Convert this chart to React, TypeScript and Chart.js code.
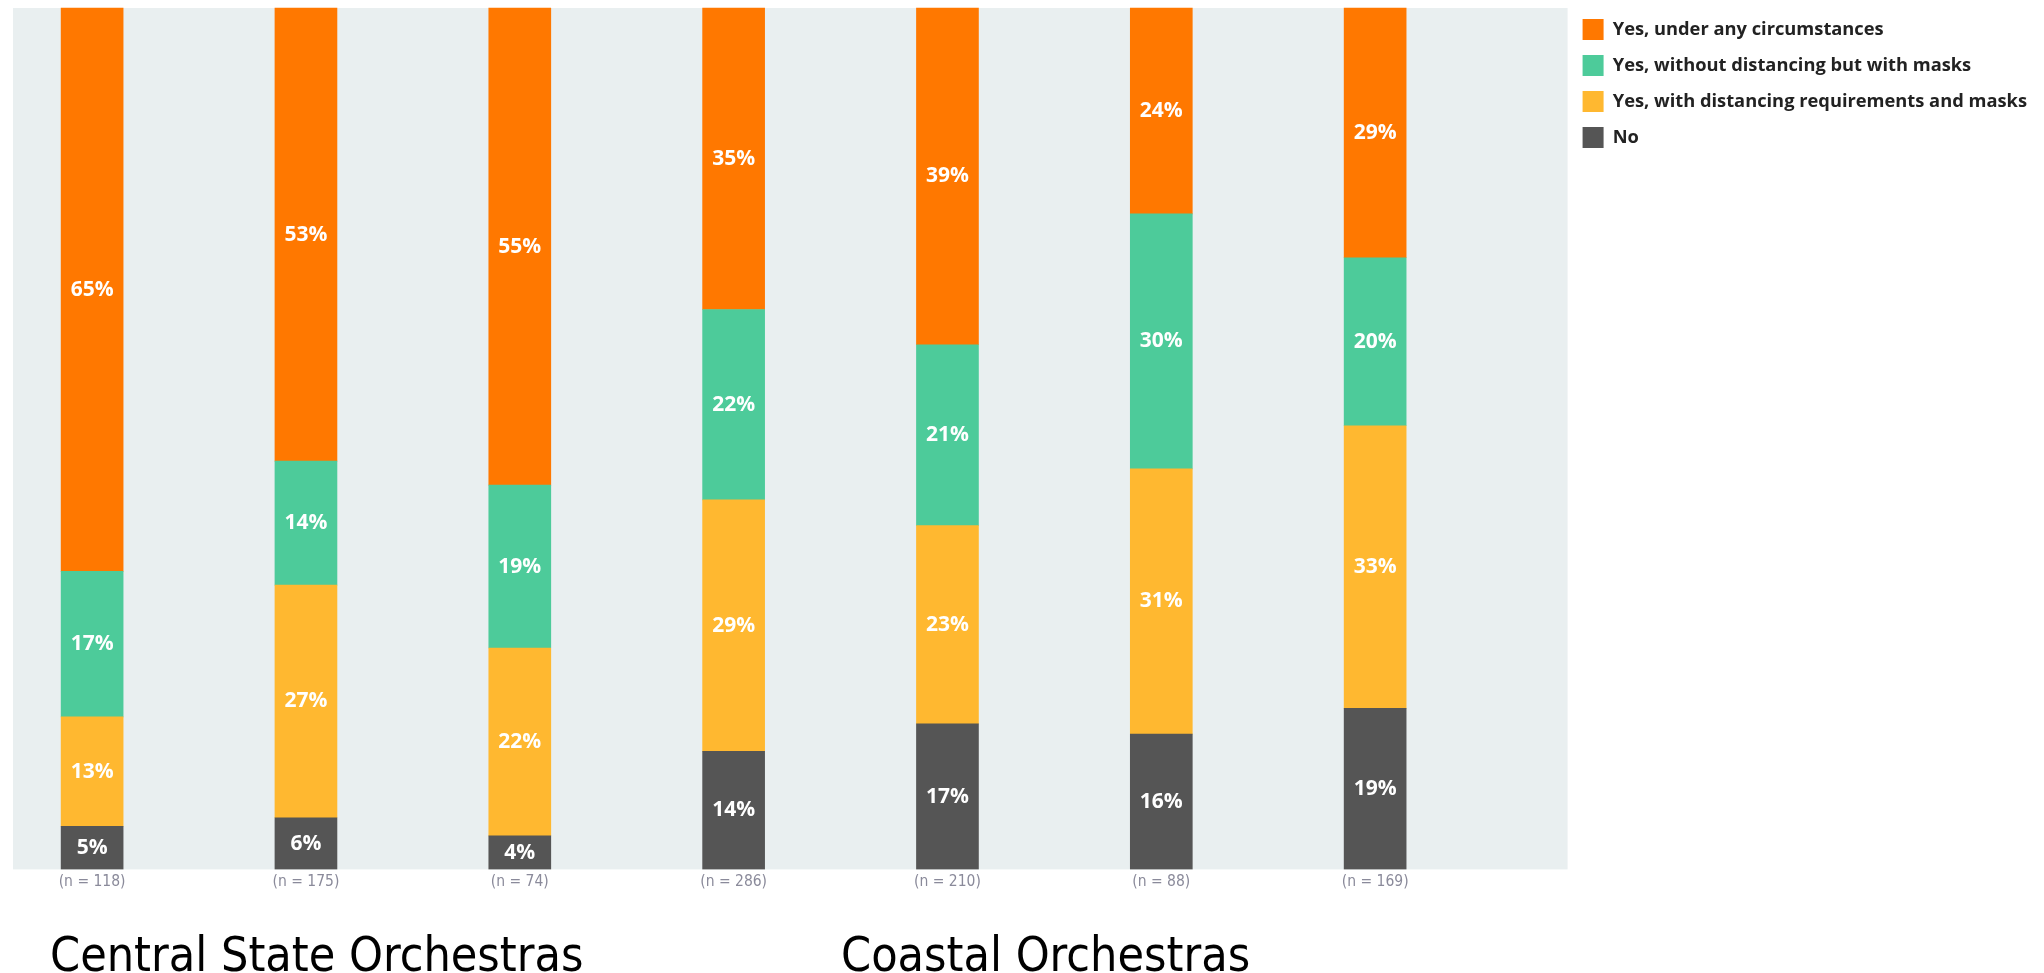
import React, { useEffect, useRef } from "react";
import { Chart, registerables } from "chart.js";

Chart.register(...registerables);

const groupLabels = ["(n = 118)", "(n = 175)", "(n = 74)", "(n = 286)", "(n = 210)", "(n = 88)", "(n = 169)"];
const seriesNames = [
  "Yes, under any circumstances",
  "Yes, without distancing but with masks",
  "Yes, with distancing requirements and masks",
  "No",
];
const anyCircumstances = [65.4, 52.6, 55.4, 35.0, 39.1, 23.9, 29.0];
const withoutDistancing = [16.9, 14.4, 18.9, 22.1, 21.0, 29.6, 19.5];
const withDistancing = [12.7, 27.0, 21.8, 29.2, 23.0, 30.8, 32.8];
const noValues = [5.0, 6.0, 3.9, 13.7, 16.9, 15.7, 18.7];
const seriesColors = ["#ff7800", "#4dcb9a", "#ffb830", "#555555"];
const regionTitles = ["Central State Orchestras", "Coastal Orchestras"];

const toPoints = (arr: number[]) => arr.map((v, i) => ({ x: i, y: v }));

const bgPlugin = {
  id: "panelBg",
  beforeDraw(chart: any) {
    const { ctx, chartArea } = chart;
    const top = chart.scales.y.getPixelForValue(100);
    ctx.save();
    ctx.fillStyle = "#e9eff0";
    ctx.fillRect(chartArea.left, top, chartArea.right - chartArea.left, chartArea.bottom - top);
    ctx.restore();
  },
};

const labelPlugin = {
  id: "segLabels",
  afterDatasetsDraw(chart: any) {
    const { ctx } = chart;
    ctx.save();
    ctx.fillStyle = "#ffffff";
    ctx.font = "bold 21px 'Open Sans'";
    ctx.textAlign = "center";
    ctx.textBaseline = "middle";
    chart.data.datasets.forEach((ds: any, di: number) => {
      const meta = chart.getDatasetMeta(di);
      meta.data.forEach((bar: any, i: number) => {
        const v = ds.data[i].y;
        const y = (bar.y + bar.base) / 2;
        ctx.fillText(Math.round(v) + "%", bar.x, y);
      });
    });
    ctx.restore();
  },
};

export default function App() {
  const ref = useRef<HTMLCanvasElement>(null);
  useEffect(() => {
    if (!ref.current) return;
    const seriesData = [anyCircumstances, withoutDistancing, withDistancing, noValues];
    // bottom-first stacking: No, distancing, without distancing, any
    const order = [3, 2, 1, 0];
    const chart = new Chart(ref.current, {
      type: "bar",
      data: {
        datasets: order.map((k) => ({
          label: seriesNames[k],
          data: toPoints(seriesData[k]) as any,
          backgroundColor: seriesColors[k],
          borderWidth: 0,
          barThickness: 62,
        })),
      },
      options: {
        animation: false,
        responsive: true,
        maintainAspectRatio: false,
        layout: { padding: { left: 13, top: 4, right: 7, bottom: 79 } },
        scales: {
          x: {
            type: "linear",
            stacked: true,
            offset: false,
            min: -0.37,
            max: 6.9,
            grid: { display: false, drawTicks: false, offset: false },
            border: { display: false },
            afterBuildTicks: (scale: any) => {
              scale.ticks = groupLabels.map((_, i) => ({ value: i }));
            },
            ticks: {
              padding: 3,
              color: "#8a8a9a",
              font: { family: "'DejaVu Sans Condensed'", size: 15.5 },
              callback: (v: any) => groupLabels[v] ?? "",
              maxRotation: 0,
              autoSkip: false,
            },
          },
          y: {
            stacked: true,
            min: 0,
            max: 100.46,
            display: false,
          },
        },
        plugins: {
          legend: {
            position: "right",
            align: "start",
            reverse: true,
            labels: {
              boxWidth: 21,
              boxHeight: 21,
              padding: 15,
              color: "#222222",
              font: { family: "'Open Sans'", size: 18.3, weight: "bold" },
            },
          },
          tooltip: { enabled: false },
        },
      },
      plugins: [bgPlugin, labelPlugin],
    });
    return () => chart.destroy();
  }, []);

  const titleStyle: React.CSSProperties = {
    position: "absolute",
    top: 930,
    fontFamily: "'DejaVu Sans Condensed'",
    fontSize: 48,
    lineHeight: "48px",
    color: "#000",
    whiteSpace: "nowrap",
  };

  return (
    <div style={{ position: "absolute", left: 0, top: 0, width: 2044, height: 973, background: "#fff" }}>
      <canvas ref={ref} />
      <div style={{ ...titleStyle, left: 50 }}>{regionTitles[0]}</div>
      <div style={{ ...titleStyle, left: 841 }}>{regionTitles[1]}</div>
    </div>
  );
}
